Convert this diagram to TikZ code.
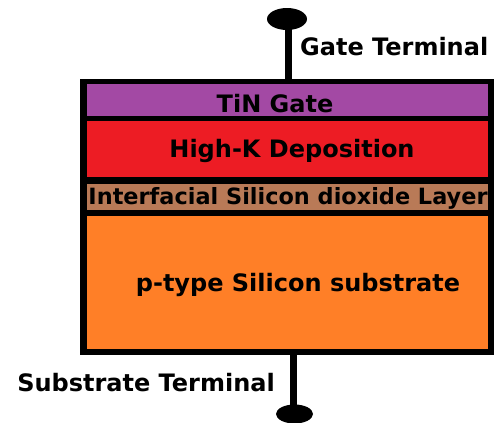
\documentclass[tikz,border=0pt]{standalone}
\usepackage{fontspec}
\setmainfont{DejaVu Sans}
\usetikzlibrary{shapes.geometric}
\definecolor{tinpurple}{HTML}{A349A4}
\definecolor{hkred}{HTML}{ED1C24}
\definecolor{oxbrown}{HTML}{B97A57}
\definecolor{suborange}{HTML}{FF7F27}
\begin{document}
\begin{tikzpicture}[x=1pt,y=-1pt,
  lbl/.style={font=\bfseries\fontsize{24}{24}\selectfont, text=black, inner sep=0pt},
  layer/.style={draw=none, inner sep=0pt, anchor=north west},
  term/.style={ellipse, fill=black, inner sep=0pt},
  stem/.style={line width=7pt}]
\useasboundingbox (0,0) rectangle (504,423);
% outer black frame
\fill[black] (80,79) rectangle (494,355);
% layers
\node[layer, fill=tinpurple, minimum width=401pt, minimum height=32pt] (tin) at (87,84) {};
\node[layer, fill=hkred, minimum width=401pt, minimum height=56pt] (hk) at (87,121) {};
\node[layer, fill=oxbrown, minimum width=401pt, minimum height=26pt] (ox) at (87,184) {};
\node[layer, fill=suborange, minimum width=401pt, minimum height=133pt] (sub) at (87,216) {};
% labels
\node[lbl] (tint) at (275,104) {TiN Gate};
\node[lbl] (hkt) at (292,151) {High-K Deposition};
\node[lbl, font=\bfseries\fontsize{22.4}{22.4}\selectfont] (oxt) at (288,198) {Interfacial Silicon dioxide Layer};
\node[lbl] (subt) at (298,285) {p-type Silicon substrate};
% terminals
\coordinate (frametop) at (288.5,79);
\coordinate (framebot) at (293,355);
\node[term, minimum width=40pt, minimum height=22pt] (gate) at (287,19) {};
\node[term, minimum width=37pt, minimum height=19pt] (subterm) at (294.5,414) {};
\draw[stem] (frametop |- gate.center) -- (frametop);
\draw[stem] (framebot) -- (framebot |- subterm.center);
\node[lbl, anchor=west] (gatet) at (300,47) {Gate Terminal};
\node[lbl, anchor=east] (subtt) at (275,383) {Substrate Terminal};
\end{tikzpicture}
\end{document}
